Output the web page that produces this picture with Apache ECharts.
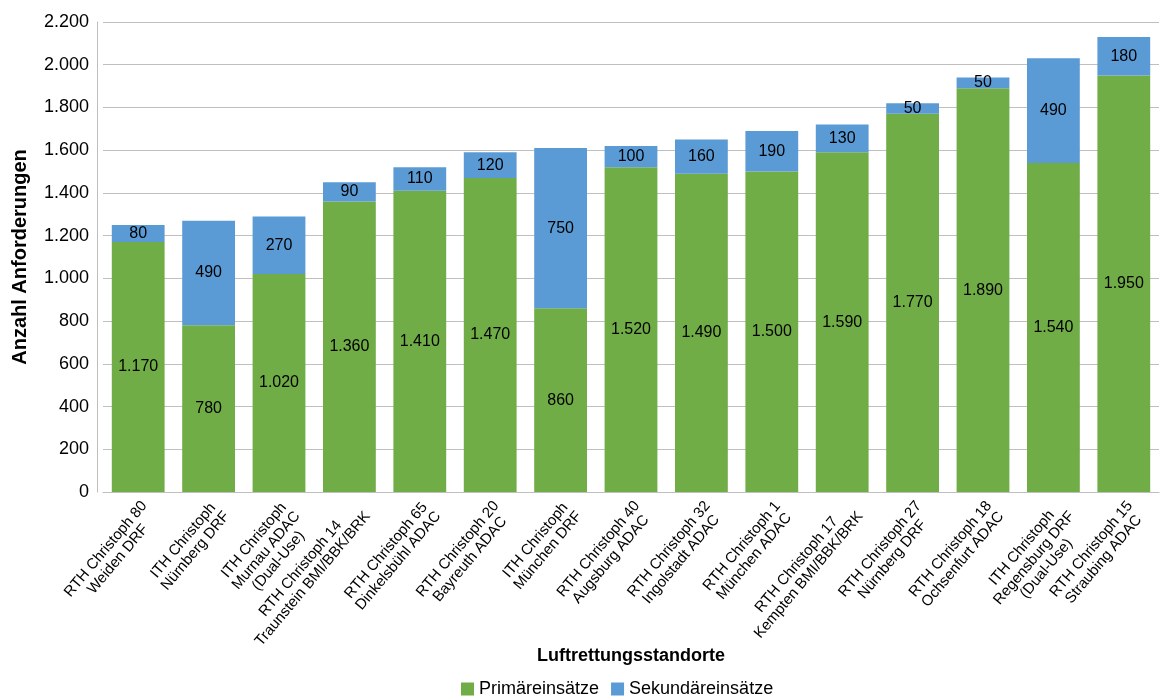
<!DOCTYPE html>
<html><head><meta charset="utf-8">
<script src="https://cdn.jsdelivr.net/npm/echarts@6/dist/echarts.min.js"></script>
<style>html,body{margin:0;padding:0;background:#fff}#c{width:1163px;height:697px}</style>
</head><body><div id="c"></div>
<script>
const categories = [
  "RTH Christoph 80\nWeiden DRF",
  "ITH Christoph\nNürnberg DRF",
  "ITH Christoph\nMurnau ADAC\n(Dual-Use)",
  "RTH Christoph 14\nTraunstein BMI/BBK/BRK",
  "RTH Christoph 65\nDinkelsbühl ADAC",
  "RTH Christoph 20\nBayreuth ADAC",
  "ITH Christoph\nMünchen DRF",
  "RTH Christoph 40\nAugsburg ADAC",
  "RTH Christoph 32\nIngolstadt ADAC",
  "RTH Christoph 1\nMünchen ADAC",
  "RTH Christoph 17\nKempten BMI/BBK/BRK",
  "RTH Christoph 27\nNürnberg DRF",
  "RTH Christoph 18\nOchsenfurt ADAC",
  "ITH Christoph\nRegensburg DRF\n(Dual-Use)",
  "RTH Christoph 15\nStraubing ADAC"
];
const primaer = [1170, 780, 1020, 1360, 1410, 1470, 860, 1520, 1490, 1500, 1590, 1770, 1890, 1540, 1950];
const sekundaer = [80, 490, 270, 90, 110, 120, 750, 100, 160, 190, 130, 50, 50, 490, 180];
const seriesNames = ["Primäreinsätze", "Sekundäreinsätze"];
const yTicks = { min: 0, max: 2200, interval: 200 };

function fmt(v) {
  return String(v).replace(/\B(?=(\d{3})+(?!\d))/g, ".");
}

const FONT = "Arial, 'Liberation Sans', sans-serif";
const XFS = 15;
const ctx = document.createElement("canvas").getContext("2d");
ctx.font = XFS + "px " + FONT;
const rich = {};
categories.forEach((c, i) => {
  const w = Math.max(...c.split("\n").map(l => ctx.measureText(l).width));
  rich["w" + i] = { width: Math.ceil(w), align: "center", fontSize: XFS, fontFamily: FONT, color: "#000", lineHeight: 16 };
});

const chart = echarts.init(document.getElementById("c"), null, { renderer: "canvas" });
const labelCommon = {
  show: true, position: "inside", color: "#000", fontSize: 16, fontFamily: FONT,
  formatter: p => fmt(p.value)
};
chart.setOption({
  animation: false,
  textStyle: { fontFamily: FONT },
  grid: { left: 103, right: 4, top: 22, bottom: 205, containLabel: false, outerBoundsMode: "none" },
  legend: {
    top: 675, left: 456, icon: "rect", itemWidth: 13, itemHeight: 13, itemGap: 12,
    textStyle: { fontSize: 18, color: "#000", fontFamily: FONT },
    data: seriesNames
  },
  xAxis: {
    type: "category", data: categories,
    name: "Luftrettungsstandorte", nameLocation: "middle", nameGap: 155, nameMoveOverlap: false,
    nameTextStyle: { fontSize: 18, fontWeight: "bold", color: "#000", fontFamily: FONT },
    axisLine: { lineStyle: { color: "#bfbfbf", width: 1 } },
    axisTick: { alignWithLabel: true, length: 5, lineStyle: { color: "#bfbfbf" } },
    axisLabel: {
      rotate: 50, interval: 0, margin: 6, color: "#000", verticalAlign: "top",
      formatter: (v, i) => v.split("\n").map(l => "{w" + i + "|" + l + "}").join("\n"),
      rich: rich
    }
  },
  yAxis: {
    type: "value", min: yTicks.min, max: yTicks.max, interval: yTicks.interval, offset: 6,
    name: "Anzahl Anforderungen", nameLocation: "middle", nameGap: 67,
    nameTextStyle: { fontSize: 20, fontWeight: "bold", color: "#000", fontFamily: FONT },
    axisLine: { show: true, lineStyle: { color: "#bfbfbf", width: 1 } },
    axisTick: { show: false },
    splitLine: { lineStyle: { color: "#bfbfbf", width: 1 } },
    axisLabel: { fontSize: 18, color: "#000", margin: 8, formatter: v => fmt(v) }
  },
  series: [
    { name: seriesNames[0], type: "bar", stack: "a", data: primaer, barCategoryGap: "25%",
      itemStyle: { color: "#70AD47" }, label: labelCommon },
    { name: seriesNames[1], type: "bar", stack: "a", data: sekundaer, barCategoryGap: "25%",
      itemStyle: { color: "#5B9BD5" }, label: labelCommon }
  ]
});
</script></body></html>
